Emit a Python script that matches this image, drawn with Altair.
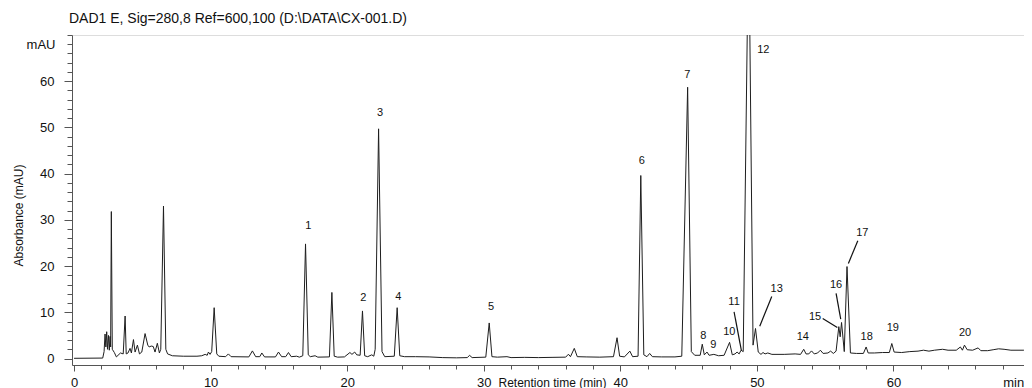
import altair as alt
import pandas as pd

title_text = "DAD1 E, Sig=280,8 Ref=600,100 (D:\\DATA\\CX-001.D)"

# Chromatogram trace: retention time (min) and absorbance (mAU)
time_min = [
    0.0, 2.1, 2.2, 2.27, 2.33, 2.39, 2.45, 2.52, 2.58, 2.64, 2.68, 2.73, 2.8, 2.95, 3.1,
    3.4, 3.6, 3.74, 3.82, 3.95, 4.1, 4.2, 4.35, 4.47, 4.64, 4.79, 4.96, 5.2, 5.4, 5.5,
    5.65, 5.8, 5.93, 6.1, 6.25, 6.35, 6.55, 6.72, 6.85, 7.2, 8.0, 9.0, 9.35, 9.6, 9.75,
    9.84, 9.96, 10.08, 10.26, 10.45, 10.6, 11.1, 11.3, 11.5, 12.8, 13.06, 13.3, 13.6, 13.75, 13.95,
    14.75, 14.97, 15.2, 15.5, 15.7, 15.9, 16.3, 16.5, 16.75, 16.95, 17.15, 17.3, 17.65, 17.85, 18.7,
    18.88, 19.05, 19.3, 19.8, 20.2, 20.35, 20.55, 20.7, 20.95, 21.12, 21.28, 21.5, 21.8, 21.95, 22.05,
    22.3, 22.55, 22.75, 23.45, 23.66, 23.85, 24.2, 25.0, 26.0, 27.0, 28.0, 28.8, 28.96, 29.15, 30.15,
    30.4, 30.6, 31.0, 31.7, 32.0, 33.0, 34.0, 35.0, 36.0, 36.2, 36.35, 36.63, 36.85, 37.5, 38.5,
    39.5, 39.76, 39.95, 40.3, 40.7, 40.9, 41.3, 41.5, 41.72, 41.95, 42.15, 42.35, 43.0, 44.0, 44.5,
    44.93, 45.2, 45.45, 45.85, 46.0, 46.15, 46.35, 46.5, 46.85, 47.2, 47.6, 48.0, 48.2, 48.4, 48.55,
    48.7, 48.84, 49.0, 49.4, 49.72, 49.9, 50.1, 50.3, 50.45, 50.6, 50.8, 51.1, 52.0, 52.8, 53.2,
    53.43, 53.6, 53.8, 54.0, 54.2, 54.45, 54.65, 54.85, 55.2, 55.4, 55.6, 55.8, 56.0, 56.1, 56.2,
    56.4, 56.6, 56.85, 57.3, 57.8, 58.0, 58.15, 58.6, 59.2, 59.7, 59.88, 60.05, 60.6, 61.2, 61.8,
    62.2, 62.6, 63.0, 63.6, 64.0, 64.6, 64.9, 65.05, 65.2, 65.4, 65.8, 66.2, 66.4, 66.9, 67.3,
    67.7, 68.1, 68.6, 69.5, 70.0,
]
absorbance = [
    0.05, 0.1, 1.5, 5.3, 2.5, 5.8, 2.0, 5.0, 1.8, 4.8, 2.5, 31.8, 2.0, 1.3, 0.35,
    1.2, 1.0, 9.2, 1.0, 1.2, 2.2, 1.2, 4.1, 1.4, 2.9, 1.0, 1.4, 5.4, 2.9, 2.5,
    2.7, 2.6, 1.4, 3.3, 1.2, 2.0, 33.0, 2.0, 1.0, 0.6, 0.5, 0.5, 0.6, 0.9, 0.7,
    1.4, 0.9, 1.5, 11.0, 1.0, 0.5, 0.4, 1.0, 0.4, 0.35, 1.65, 0.4, 0.4, 1.2, 0.35,
    0.35, 1.4, 0.4, 0.4, 1.3, 0.4, 0.5, 0.3, 0.6, 24.8, 0.8, 0.4, 0.6, 0.3, 0.35,
    14.3, 0.5, 0.3, 0.35, 1.3, 0.9, 1.4, 0.8, 0.7, 10.3, 0.6, 0.4, 0.8, 0.5, 2.0,
    49.7, 1.5, 0.4, 0.5, 11.0, 0.6, 0.4, 0.4, 0.35, 0.2, 0.15, 0.2, 0.7, 0.2, 0.3,
    7.7, 0.4, 0.3, 0.4, 0.2, 0.25, 0.2, 0.25, 0.3, 0.93, 0.4, 2.2, 0.4, 0.35, 0.3,
    0.4, 4.5, 0.5, 0.35, 1.6, 0.4, 0.5, 39.6, 0.8, 0.4, 1.1, 0.4, 0.35, 0.35, 0.5,
    58.7, 1.5, 0.7, 0.7, 3.1, 0.8, 1.4, 0.7, 0.9, 0.6, 0.7, 3.5, 0.8, 1.0, 1.4,
    1.0, 1.8, 1.5, 95.0, 2.9, 6.5, 1.4, 0.9, 1.3, 1.0, 1.2, 0.9, 0.9, 1.0, 0.9,
    2.0, 1.0, 1.0, 1.65, 1.0, 1.2, 1.8, 1.1, 1.2, 1.6, 1.1, 1.6, 6.9, 4.7, 7.8,
    1.5, 19.9, 1.2, 1.1, 1.1, 2.5, 1.2, 1.2, 1.3, 1.3, 3.25, 1.4, 1.3, 1.5, 1.6,
    1.8, 1.6, 1.8, 2.0, 1.8, 1.8, 2.5, 1.8, 2.9, 1.9, 1.8, 2.3, 1.7, 1.7, 1.9,
    2.1, 2.0, 1.8, 1.8, 1.8,
]

# Peak numbers and where their labels sit
peak_ids = [str(i) for i in range(1, 21)]
label_t = [17.15, 21.18, 22.40, 23.74, 30.53, 41.57, 44.91, 46.08, 46.81, 47.98,
           48.33, 50.47, 51.45, 53.36, 54.26, 55.80, 57.72, 58.04, 59.95, 65.24]
label_v = [28.66, 13.0, 53.05, 13.35, 11.06, 42.8, 61.34, 4.91, 2.9, 5.65,
           12.27, 66.75, 14.96, 4.63, 9.03, 15.89, 27.08, 4.7, 6.52, 5.43]

# Leader lines for crowded labels (11, 13, 15, 16, 17)
leader_t1 = [48.33, 51.09, 54.82, 55.80, 57.39]
leader_v1 = [10.1, 13.4, 8.68, 14.09, 25.48]
leader_t2 = [48.86, 50.21, 55.89, 56.14, 56.70]
leader_v2 = [1.82, 7.0, 6.73, 8.53, 20.58]

x_major = [0, 10, 20, 30, 40, 50, 60]
x_minor = list(range(0, 70, 2))
y_major = [0, 10, 20, 30, 40, 50, 60]
y_minor = list(range(0, 71, 2))

FONT = "Liberation Sans"
AXIS_COLOR = "#555555"
LINE_COLOR = "#1e1e1e"
TEXT_COLOR = "#111111"

trace = pd.DataFrame({"t": time_min, "v": absorbance})
labels = pd.DataFrame({"t": label_t, "v": label_v, "id": peak_ids})
leaders = pd.DataFrame({"t": leader_t1, "v": leader_v1, "t2": leader_t2, "v2": leader_v2})

xs = alt.Scale(domain=[-0.15, 69.56], nice=False, zero=False)
ys = alt.Scale(domain=[-1.4, 70], nice=False, zero=False)

x_major_axis = alt.Axis(
    orient="bottom", values=x_major, tickSize=6, tickColor=AXIS_COLOR, domainColor=AXIS_COLOR,
    labelFontSize=13, labelFont=FONT, labelColor=TEXT_COLOR, labelPadding=5, labelFlush=False,
    grid=False, title="Retention time (min)", titleFont=FONT, titleFontSize=12,
    titleFontWeight="normal", titleColor=TEXT_COLOR, titleX=480, titleY=17,
    titleBaseline="middle", titleAlign="center",
)
y_major_axis = alt.Axis(
    orient="left", values=y_major, tickSize=8, tickColor=AXIS_COLOR, domainColor=AXIS_COLOR,
    labelFontSize=13, labelFont=FONT, labelColor=TEXT_COLOR, labelPadding=10, labelFlush=False,
    grid=False, title="Absorbance (mAU)", titleFont=FONT, titleFontSize=12,
    titleFontWeight="normal", titleColor=TEXT_COLOR, titleX=-54, titleY=180,
    titleBaseline="middle", titleAlign="center", titleAngle=270,
)
x_minor_axis = alt.Axis(
    orient="bottom", values=x_minor, tickSize=4, tickColor=AXIS_COLOR, domain=False, grid=False,
    labelExpr="datum.value == 68 ? 'min' : ''", labelAlign="left", labelFontSize=13,
    labelFont=FONT, labelColor=TEXT_COLOR, labelPadding=7, labelFlush=False, title=None,
)
y_minor_axis = alt.Axis(
    orient="left", values=y_minor, tickSize=5, tickColor=AXIS_COLOR, domain=False, grid=False,
    labelExpr="datum.value == 68 ? 'mAU' : ''", labelFontSize=13, labelFont=FONT,
    labelColor=TEXT_COLOR, labelPadding=12, labelFlush=False, title=None,
)

line = alt.Chart(trace).mark_line(color=LINE_COLOR, strokeWidth=1, clip=True).encode(
    x=alt.X("t:Q", scale=xs, axis=x_major_axis),
    y=alt.Y("v:Q", scale=ys, axis=y_major_axis),
)

leader_rules = alt.Chart(leaders).mark_rule(color=TEXT_COLOR, strokeWidth=1.2).encode(
    x=alt.X("t:Q", scale=xs, axis=x_minor_axis),
    y=alt.Y("v:Q", scale=ys, axis=y_minor_axis),
    x2="t2:Q",
    y2="v2:Q",
)

text = alt.Chart(labels).mark_text(
    font=FONT, fontSize=11, color=TEXT_COLOR, align="center", baseline="middle"
).encode(
    x=alt.X("t:Q", scale=xs, axis=None),
    y=alt.Y("v:Q", scale=ys, axis=None),
    text="id:N",
)

chart = (
    alt.layer(line, leader_rules, text)
    .resolve_axis(x="independent", y="independent")
    .properties(
        width=952,
        height=330,
        padding={"left": 64, "top": 27, "right": 0, "bottom": 23},
        autosize=alt.AutoSizeParams(type="none"),
        title=alt.TitleParams(
            text=title_text, anchor="start", frame="group", font=FONT, fontSize=14,
            fontWeight="normal", color=TEXT_COLOR, baseline="alphabetic", offset=12,
            dx=-3, dy=14,
        ),
    )
    .configure_view(stroke=None)
    .configure(font=FONT)
)

chart.save("out.html", embed_options={"renderer": "svg", "actions": False})
